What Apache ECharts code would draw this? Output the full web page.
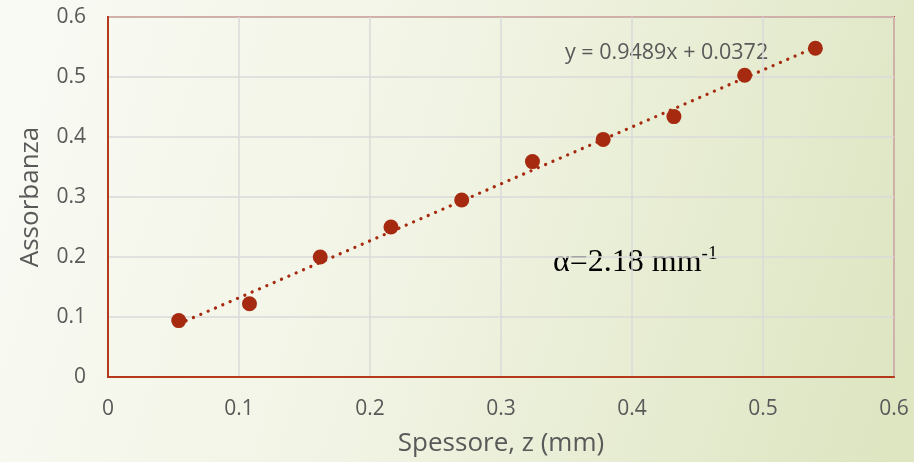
<!DOCTYPE html>
<html>
<head>
<meta charset="utf-8">
<script src="https://cdn.jsdelivr.net/npm/echarts@6/dist/echarts.min.js"></script>
<style>html,body{margin:0;padding:0;}#c{width:914px;height:462px;}</style>
</head>
<body>
<div id="c"></div>
<script>
const spessore = [0.054, 0.108, 0.162, 0.216, 0.270, 0.324, 0.378, 0.432, 0.486, 0.540];
const assorbanza = [0.094, 0.122, 0.200, 0.250, 0.295, 0.359, 0.396, 0.434, 0.503, 0.548];
const slope = 0.9489;
const intercept = 0.0372;
const trendX = [0.054, 0.540];
const xTicks = [0, 0.1, 0.2, 0.3, 0.4, 0.5, 0.6];
const yTicks = [0, 0.1, 0.2, 0.3, 0.4, 0.5, 0.6];

const red = '#A52A0F';
const font = '"Open Sans", sans-serif';
const chart = echarts.init(document.getElementById('c'));
chart.setOption({
  backgroundColor: {type:'linear', x:0, y:0.2, x2:1, y2:0.8, colorStops:[
    {offset:0, color:'#f9faf4'}, {offset:0.45, color:'#f1f4e4'}, {offset:1, color:'#dde5c1'}]},
  animation: false,
  grid: {left:108, right:20, top:17, bottom:85, show:true, borderColor:'#B5391B', borderWidth:2,
    backgroundColor:'transparent', outerBoundsMode:'none', containLabel:false},
  xAxis: {type:'value', min:0, max:0.6, interval:0.1,
    name:'Spessore, z (mm)', nameLocation:'middle', nameGap:54,
    nameTextStyle:{color:'#595959', fontSize:26, fontFamily:font},
    axisLine:{show:true, lineStyle:{color:'#B5391B', width:2}},
    axisTick:{show:false},
    axisLabel:{color:'#595959', fontSize:21, fontFamily:font, margin:22, formatter: v => String(+v.toFixed(1))},
    splitLine:{lineStyle:{color:'#dadada', width:1.5}}},
  yAxis: {type:'value', min:0, max:0.6, interval:0.1,
    name:'Assorbanza', nameLocation:'middle', nameGap:64,
    nameTextStyle:{color:'#595959', fontSize:26, fontFamily:font},
    axisLine:{show:true, lineStyle:{color:'#B5391B', width:2}},
    axisTick:{show:false},
    axisLabel:{color:'#595959', fontSize:21, fontFamily:font, margin:22, formatter: v => String(+v.toFixed(1))},
    splitLine:{lineStyle:{color:'#dadada', width:1.5}}},
  series: [
    {type:'line', data: trendX.map(x => [x, slope*x + intercept]), symbol:'none', z:2,
     lineStyle:{color:red, width:3.2, type:[0.1, 7.9], cap:'round'}},
    {type:'scatter', data: spessore.map((x,i) => [x, assorbanza[i]]), symbolSize:15, z:3,
     itemStyle:{color:red, opacity:1}}
  ],
  graphic: [
    {type:'text', left:565, top:42, style:{text:'y = 0.9489x + 0.0372', fill:'#595959', font:'21.5px ' + font}},
    {type:'text', left:553, top:245, style:{
      text:'{a|α=2.18 mm}{s|-1}', rich:{
        a:{fontFamily:'"Liberation Serif", "Times New Roman", serif', fontSize:32, fill:'#000', verticalAlign:'bottom', lineHeight:34},
        s:{fontFamily:'"Liberation Serif", "Times New Roman", serif', fontSize:19, fill:'#000', verticalAlign:'top', lineHeight:34}}}}
  ]
});
</script>
</body>
</html>
